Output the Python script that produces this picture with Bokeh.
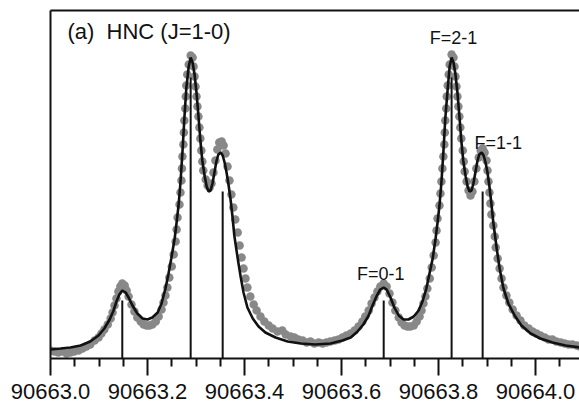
from bokeh.plotting import figure
from bokeh.models import Range1d, FixedTicker, LinearAxis, PrintfTickFormatter, Label
from bokeh.embed import file_html
from bokeh.resources import INLINE

FONT = "Liberation Sans"

# fitted profile (MHz, arbitrary intensity)
freq_fit = [
    90663.000, 90663.021, 90663.041, 90663.062, 90663.082, 90663.099, 90663.111, 90663.122, 90663.130, 90663.136,
    90663.142, 90663.148, 90663.155, 90663.161, 90663.169, 90663.179, 90663.190, 90663.200, 90663.210, 90663.221,
    90663.229, 90663.237, 90663.243, 90663.249, 90663.256, 90663.260, 90663.264, 90663.268, 90663.272, 90663.276,
    90663.280, 90663.285, 90663.289, 90663.293, 90663.297, 90663.301, 90663.305, 90663.309, 90663.313, 90663.318,
    90663.322, 90663.326, 90663.330, 90663.334, 90663.338, 90663.342, 90663.346, 90663.351, 90663.355, 90663.359,
    90663.363, 90663.367, 90663.371, 90663.375, 90663.379, 90663.386, 90663.392, 90663.398, 90663.406, 90663.417,
    90663.429, 90663.443, 90663.464, 90663.489, 90663.516, 90663.546, 90663.577, 90663.602, 90663.619, 90663.633,
    90663.645, 90663.656, 90663.664, 90663.672, 90663.680, 90663.687, 90663.693, 90663.701, 90663.709, 90663.718,
    90663.728, 90663.738, 90663.749, 90663.759, 90663.767, 90663.775, 90663.781, 90663.788, 90663.794, 90663.798,
    90663.802, 90663.806, 90663.810, 90663.814, 90663.819, 90663.823, 90663.827, 90663.831, 90663.835, 90663.839,
    90663.843, 90663.847, 90663.851, 90663.856, 90663.860, 90663.864, 90663.868, 90663.872, 90663.876, 90663.880,
    90663.884, 90663.889, 90663.893, 90663.897, 90663.901, 90663.905, 90663.909, 90663.913, 90663.920, 90663.926,
    90663.934, 90663.944, 90663.957, 90663.971, 90663.990, 90664.010, 90664.035, 90664.062, 90664.091,
]
int_fit = [
    9, 10, 11, 13, 17, 23, 30, 39, 48, 57,
    64, 68, 66, 61, 53, 45, 40, 39, 41, 46,
    55, 70, 84, 100, 120, 136, 153, 176, 206, 240,
    270, 292, 301, 296, 284, 266, 243, 218, 198, 182,
    172, 167, 168, 175, 186, 197, 204, 206, 203, 196,
    186, 174, 160, 143, 123, 100, 82, 66, 51, 40,
    32, 26, 21, 17, 15, 14, 15, 18, 21, 27,
    34, 43, 53, 62, 69, 71, 69, 61, 51, 43,
    39, 39, 42, 48, 57, 70, 84, 100, 120, 136,
    153, 176, 206, 240, 270, 292, 301, 296, 284, 266,
    243, 218, 198, 182, 172, 167, 168, 175, 186, 197,
    204, 206, 203, 196, 186, 172, 155, 136, 110, 90,
    70, 55, 43, 33, 25, 20, 16, 13, 11,
]

# observed spectrum (gray dots)
freq_obs = [
    90663.000, 90663.008, 90663.016, 90663.025, 90663.033, 90663.041, 90663.049, 90663.058, 90663.066, 90663.074,
    90663.082, 90663.091, 90663.099, 90663.105, 90663.111, 90663.118, 90663.124, 90663.128, 90663.132, 90663.136,
    90663.140, 90663.144, 90663.148, 90663.153, 90663.157, 90663.161, 90663.167, 90663.173, 90663.179, 90663.186,
    90663.192, 90663.198, 90663.204, 90663.210, 90663.217, 90663.223, 90663.229, 90663.233, 90663.237, 90663.241,
    90663.245, 90663.250, 90663.254, 90663.258, 90663.260, 90663.262, 90663.266, 90663.268, 90663.270, 90663.271,
    90663.272, 90663.274, 90663.275, 90663.276, 90663.278, 90663.279, 90663.280, 90663.282, 90663.285, 90663.289,
    90663.293, 90663.295, 90663.297, 90663.299, 90663.301, 90663.303, 90663.305, 90663.307, 90663.309, 90663.311,
    90663.313, 90663.315, 90663.320, 90663.324, 90663.328, 90663.332, 90663.336, 90663.340, 90663.344, 90663.348,
    90663.353, 90663.357, 90663.361, 90663.365, 90663.369, 90663.373, 90663.377, 90663.381, 90663.386, 90663.390,
    90663.394, 90663.398, 90663.402, 90663.406, 90663.412, 90663.419, 90663.425, 90663.433, 90663.441, 90663.450,
    90663.458, 90663.468, 90663.478, 90663.485, 90663.495, 90663.503, 90663.511, 90663.520, 90663.528, 90663.536,
    90663.544, 90663.553, 90663.561, 90663.569, 90663.577, 90663.586, 90663.594, 90663.602, 90663.610, 90663.619,
    90663.627, 90663.635, 90663.643, 90663.649, 90663.656, 90663.662, 90663.668, 90663.674, 90663.680, 90663.687,
    90663.693, 90663.699, 90663.705, 90663.711, 90663.718, 90663.724, 90663.730, 90663.736, 90663.742, 90663.749,
    90663.755, 90663.761, 90663.765, 90663.769, 90663.773, 90663.777, 90663.782, 90663.786, 90663.790, 90663.794,
    90663.796, 90663.798, 90663.802, 90663.804, 90663.806, 90663.808, 90663.810, 90663.812, 90663.813, 90663.814,
    90663.816, 90663.817, 90663.819, 90663.821, 90663.823, 90663.827, 90663.831, 90663.833, 90663.835, 90663.837,
    90663.839, 90663.841, 90663.843, 90663.845, 90663.847, 90663.850, 90663.852, 90663.854, 90663.858, 90663.862,
    90663.866, 90663.870, 90663.874, 90663.878, 90663.883, 90663.887, 90663.891, 90663.895, 90663.899, 90663.901,
    90663.903, 90663.905, 90663.907, 90663.909, 90663.913, 90663.916, 90663.918, 90663.922, 90663.926, 90663.930,
    90663.934, 90663.940, 90663.946, 90663.953, 90663.961, 90663.969, 90663.977, 90663.986, 90663.994, 90664.002,
    90664.010, 90664.019, 90664.027, 90664.035, 90664.043, 90664.052, 90664.060, 90664.068, 90664.076, 90664.085,
    90664.091,
]
int_obs = [
    8, 7, 6, 7, 5, 6, 7, 8, 10, 12,
    14, 18, 21, 25, 29, 34, 40, 46, 53, 60,
    67, 72, 75, 73, 68, 62, 54, 47, 41, 37,
    34, 33, 33, 34, 37, 42, 49, 56, 63, 71,
    81, 92, 104, 117, 129, 141, 154, 166, 178, 190,
    202, 214, 226, 238, 250, 262, 273, 284, 294, 303,
    301, 292, 282, 272, 262, 252, 242, 231, 220, 208,
    197, 188, 179, 173, 171, 175, 186, 198, 209, 216,
    217, 213, 205, 192, 178, 164, 151, 139, 126, 113,
    101, 90, 80, 71, 62, 54, 48, 42, 37, 33,
    30, 27, 28, 24, 22, 21, 19, 18, 16, 17,
    15, 16, 15, 16, 17, 18, 19, 21, 23, 25,
    28, 32, 37, 42, 48, 55, 61, 67, 72, 75,
    72, 65, 56, 48, 41, 36, 33, 32, 32, 33,
    37, 42, 48, 55, 62, 70, 80, 91, 103, 116,
    128, 140, 153, 165, 177, 190, 202, 214, 226, 238,
    250, 262, 273, 284, 294, 304, 301, 292, 282, 272,
    262, 252, 242, 231, 220, 208, 197, 187, 177, 168,
    163, 167, 177, 190, 201, 208, 210, 206, 198, 188,
    177, 166, 155, 144, 133, 122, 111, 100, 90, 80,
    71, 63, 56, 49, 43, 38, 33, 30, 27, 25,
    23, 21, 19, 19, 17, 16, 15, 14, 14, 13,
    12,
]

# hyperfine components (stick spectrum)
stick_freq = [90663.148, 90663.289, 90663.355, 90663.687, 90663.827, 90663.891]
stick_int = [58, 281, 167, 58, 281, 167]
stick_base = [0, 0, 0, 0, 0, 0]

major_ticks = [90663.0, 90663.2, 90663.4, 90663.6, 90663.8, 90664.0]
minor_ticks = [90663.05, 90663.10, 90663.15, 90663.25, 90663.30, 90663.35, 90663.45, 90663.50,
               90663.55, 90663.65, 90663.70, 90663.75, 90663.85, 90663.90, 90663.95, 90664.05]

p = figure(width=579, height=405,
           x_range=Range1d(90663.0, 90664.0907), y_range=Range1d(0, 348),
           output_backend="svg", toolbar_location=None,
           min_border_left=50, min_border_right=0, min_border_top=10, min_border_bottom=47,
           background_fill_color="white", border_fill_color="white", outline_line_color=None)
p.grid.visible = False

p.scatter(freq_obs, int_obs, size=8.5, fill_color="#888888", line_color=None)
p.line(freq_fit, int_fit, line_color="#111111", line_width=2.6)
p.segment(x0=stick_freq, y0=stick_base, x1=stick_freq, y1=stick_int,
          line_color="#111111", line_width=2)

xa = p.xaxis[0]
xa.ticker = FixedTicker(ticks=major_ticks, minor_ticks=minor_ticks)
xa.formatter = PrintfTickFormatter(format="%.1f")
xa.axis_line_width = 2
xa.axis_line_color = "#111111"
xa.major_tick_in = 0
xa.major_tick_out = 17
xa.major_tick_line_width = 2
xa.major_tick_line_color = "#111111"
xa.minor_tick_in = 0
xa.minor_tick_out = 8
xa.minor_tick_line_width = 2
xa.minor_tick_line_color = "#111111"
xa.major_label_text_font = FONT
xa.major_label_text_font_size = "22px"
xa.major_label_text_color = "#111111"
xa.major_label_text_line_height = 0.8
xa.major_label_standoff = 8

ya = p.yaxis[0]
ya.ticker = FixedTicker(ticks=[])
ya.axis_line_width = 2
ya.axis_line_color = "#111111"
ya.major_tick_line_color = None
ya.minor_tick_line_color = None
ya.major_label_text_font_size = "0px"

top = LinearAxis(ticker=FixedTicker(ticks=[]), axis_line_width=2, axis_line_color="#111111",
                 major_tick_line_color=None, minor_tick_line_color=None,
                 major_label_text_font_size="0px")
p.add_layout(top, "above")

p.add_layout(Label(x=90663.035, y=327, text="(a)\u00a0 HNC (J=1-0)", text_align="left",
                   text_baseline="middle", text_font=FONT, text_font_size="22px",
                   text_color="#111111"))
p.add_layout(Label(x=90663.681, y=85, text="F=0-1", text_align="center",
                   text_baseline="middle", text_font=FONT, text_font_size="18px",
                   text_color="#111111"))
p.add_layout(Label(x=90663.831, y=321, text="F=2-1", text_align="center",
                   text_baseline="middle", text_font=FONT, text_font_size="18px",
                   text_color="#111111"))
p.add_layout(Label(x=90663.923, y=216, text="F=1-1", text_align="center",
                   text_baseline="middle", text_font=FONT, text_font_size="18px",
                   text_color="#111111"))

open("out.html", "w").write(file_html(p, INLINE))
